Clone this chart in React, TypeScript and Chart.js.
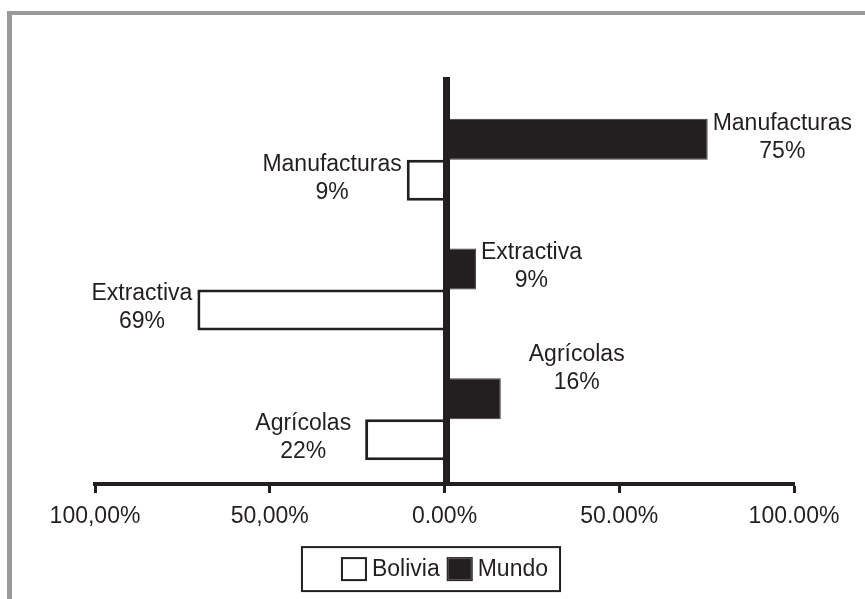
import React, { useEffect, useRef } from "react";
import { Chart, registerables } from "chart.js";

Chart.register(...registerables);

// ---- data ----
const categories = ["Manufacturas", "Extractiva", "Agrícolas"];
const seriesNames = ["Bolivia", "Mundo"];
const mundoValues = [75.3, 9.0, 16.1];
const boliviaValues = [-10.8, -70.7, -22.7];
const mundoLabels = ["75%", "9%", "16%"];
const boliviaLabels = ["9%", "69%", "22%"];
const tickValues = [-100, -50, 0, 50, 100];
const tickLabels = ["100,00%", "50,00%", "0.00%", "50.00%", "100.00%"];

// ---- styling ----
const INK = "#231f20";
const FRAME = "#9a9a9a";
const FONT = '"Liberation Sans", Arial, Helvetica, sans-serif';
const FONT_SIZE = 23;

const decorPlugin = {
  id: "decor",
  beforeDraw(chart: any) {
    const ctx = chart.ctx;
    ctx.save();
    ctx.fillStyle = "#ffffff";
    ctx.fillRect(0, 0, chart.width, chart.height);
    ctx.fillStyle = FRAME;
    ctx.fillRect(7, 11, chart.width - 7, 4);
    ctx.fillRect(7, 11, 5, chart.height - 11);
    ctx.restore();
  },
  afterDatasetsDraw(chart: any, _args: any, opts: any) {
    const ctx = chart.ctx;
    const xs = chart.scales.x;
    const zero = xs.getPixelForValue(0);
    const { top, bottom } = chart.chartArea;
    ctx.save();
    // vertical zero axis
    ctx.fillStyle = INK;
    ctx.fillRect(zero - 1.5, top - 18, 7, bottom - top + 18);

    // value labels
    ctx.font = `${FONT_SIZE}px ${FONT}`;
    ctx.textBaseline = "middle";
    ctx.textAlign = "center";
    ctx.fillStyle = INK;
    const nudges = opts.nudges || {};
    chart.data.datasets.forEach((ds: any, di: number) => {
      const meta = chart.getDatasetMeta(di);
      const texts: string[] = ds.valueLabels;
      const dn = nudges[ds.label] || [];
      meta.data.forEach((bar: any, i: number) => {
        const lines = [categories[i], texts[i]];
        const w = Math.max(...lines.map((l) => ctx.measureText(l).width));
        const nd = dn[i] || [0, 0];
        const positive = bar.x >= bar.base;
        const gap = 5;
        const cx = positive ? bar.x + gap + w / 2 + nd[0] : bar.x - gap - w / 2 + nd[0];
        const cy = bar.y - 2 + nd[1];
        ctx.fillText(lines[0], cx, cy - 14);
        ctx.fillText(lines[1], cx, cy + 14);
      });
    });
    ctx.restore();
  },
  afterDraw(chart: any) {
    const ctx = chart.ctx;
    const xs = chart.scales.x;
    const zero = xs.getPixelForValue(0);
    ctx.save();
    ctx.font = `${FONT_SIZE}px ${FONT}`;
    ctx.textBaseline = "middle";
    ctx.textAlign = "left";
    const bw = 26;
    const bh = 24;
    const tgap = 5;
    const igap = 7;
    const w0 = ctx.measureText(seriesNames[0]).width;
    const w1 = ctx.measureText(seriesNames[1]).width;
    const contentW = bw + tgap + w0 + igap + bw + tgap + w1;
    const sx = zero - contentW / 2;
    const topY = xs.bottom + 7.5;
    const h = 44;
    const cy = topY + h / 2;
    // frame
    ctx.lineWidth = 2;
    ctx.strokeStyle = INK;
    ctx.strokeRect(sx - 39, topY, contentW + 51, h);
    // Bolivia swatch
    ctx.fillStyle = "#ffffff";
    ctx.fillRect(sx, cy - bh / 2, bw, bh);
    ctx.strokeRect(sx + 1, cy - bh / 2 + 1, bw - 2, bh - 2);
    ctx.fillStyle = INK;
    ctx.fillText(seriesNames[0], sx + bw + tgap, cy + 1);
    // Mundo swatch
    const mx = sx + bw + tgap + w0 + igap;
    ctx.fillStyle = INK;
    ctx.fillRect(mx, cy - bh / 2, bw, bh);
    ctx.strokeStyle = "#5a5657";
    ctx.lineWidth = 1;
    ctx.strokeRect(mx + 1.5, cy - bh / 2 + 1.5, bw - 3, bh - 3);
    ctx.fillStyle = INK;
    ctx.fillText(seriesNames[1], mx + bw + tgap, cy + 1);
    ctx.restore();
  },
};

export default function App() {
  const ref = useRef<HTMLCanvasElement>(null);

  useEffect(() => {
    const canvas = ref.current;
    if (!canvas) return;
    const chart = new Chart(canvas, {
      type: "bar",
      data: {
        labels: categories,
        datasets: [
          {
            label: seriesNames[1],
            data: mundoValues,
            valueLabels: mundoLabels,
            backgroundColor: INK,
            borderColor: "#3d393a",
            borderWidth: 1,
          } as any,
          {
            label: seriesNames[0],
            data: boliviaValues,
            valueLabels: boliviaLabels,
            backgroundColor: "#ffffff",
            borderColor: INK,
            borderWidth: 3,
          } as any,
        ],
      },
      options: {
        indexAxis: "y",
        responsive: false,
        animation: false,
        layout: { padding: { left: 95, right: 71, top: 95, bottom: 59.4 } },
        datasets: { bar: { categoryPercentage: 0.632, barPercentage: 1 } },
        plugins: {
          legend: { display: false },
          tooltip: { enabled: false },
          decor: {
            nudges: {
              Mundo: [[0, 0], [0, 0], [23, -28]],
              Bolivia: [[0, 0], [0, 0], [-9, 0]],
            },
          },
        } as any,
        scales: {
          x: {
            type: "linear",
            position: "bottom",
            min: -100,
            max: 100,
            afterBuildTicks: (axis: any) => {
              axis.ticks = tickValues.map((v) => ({ value: v }));
            },
            ticks: {
              callback: (_v: any, i: number) => tickLabels[i],
              font: { size: FONT_SIZE, family: FONT },
              color: INK,
              padding: 9.5,
              maxRotation: 0,
              autoSkip: false,
            },
            grid: {
              display: true,
              drawOnChartArea: false,
              drawTicks: true,
              tickLength: 9,
              tickWidth: 3,
              tickColor: INK,
            },
            border: { display: true, color: INK, width: 4 },
          },
          y: { display: false, grid: { display: false } },
        },
      },
      plugins: [decorPlugin],
    });
    return () => chart.destroy();
  }, []);

  return (
    <div style={{ position: "absolute", left: 0, top: 0, width: 865, height: 599, background: "#fff" }}>
      <canvas ref={ref} width={865} height={599} style={{ display: "block", width: 865, height: 599 }} />
    </div>
  );
}
